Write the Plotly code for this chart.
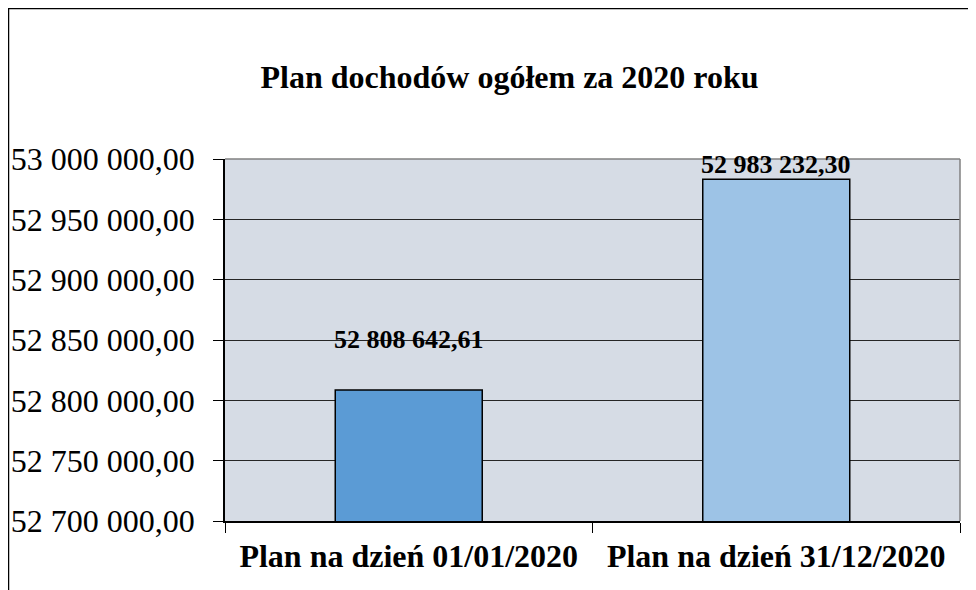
import plotly.graph_objects as go

categories = ["Plan na dzień 01/01/2020", "Plan na dzień 31/12/2020"]
values = [52808642.61, 52983232.30]
bar_colors = ["#5b9bd5", "#9dc3e6"]
y_ticks = [52700000, 52750000, 52800000, 52850000, 52900000, 52950000, 53000000]
label_shift = [50, 15]


def fmt(v):
    s = f"{v:,.2f}"
    return s.replace(",", " ").replace(".", ",")


SERIF = "Liberation Serif"

fig = go.Figure()
fig.add_trace(go.Bar(
    x=categories, y=values, width=0.4,
    marker=dict(color=bar_colors, line=dict(color="black", width=1.5)),
    showlegend=False, hoverinfo="skip",
))

for c, v, s in zip(categories, values, label_shift):
    fig.add_annotation(x=c, y=v, text=f"<b>{fmt(v)}</b>", showarrow=False,
                       yanchor="middle", yshift=s,
                       font=dict(family=SERIF, size=26, color="black"))

# the page body adds an 8px offset; coordinates below are figure coords
OFF = 8
L, R, T, B = 225 - OFF, 24, 159 - OFF, 77
W, H = 976, 590
pw, ph = W - L - R, H - T - B

def px(x):
    return (x - L) / pw

def py(y):
    return (H - B - y) / ph

shapes = [
    dict(type="line", xref="paper", yref="paper", x0=px(0.5), x1=px(0.5), y0=py(0), y1=py(700),
         line=dict(color="black", width=1.5)),
    dict(type="line", xref="paper", yref="paper", x0=px(0), x1=px(1100), y0=py(0.5), y1=py(0.5),
         line=dict(color="black", width=1.5)),
    dict(type="line", xref="paper", yref="paper", x0=0, x1=1, y0=1, y1=1,
         line=dict(color="#808080", width=1.5)),
    dict(type="line", xref="paper", yref="paper", x0=1, x1=1, y0=0, y1=1,
         line=dict(color="#808080", width=1.5)),
]

fig.update_layout(
    width=W, height=H,
    margin=dict(l=L, r=R, t=T, b=B, autoexpand=False),
    paper_bgcolor="white",
    plot_bgcolor="#d6dce5",
    title=dict(text="<b>Plan dochodów ogółem za 2020 roku</b>", x=(509.5 - OFF) / W, xanchor="center",
               y=1 - (77 - OFF) / H, yanchor="middle",
               font=dict(family=SERIF, size=32, color="black")),
    shapes=shapes,
)

fig.update_yaxes(
    range=[y_ticks[0], y_ticks[-1]],
    tickvals=y_ticks, ticktext=[fmt(t) for t in y_ticks],
    showgrid=True, gridcolor="#262626", gridwidth=1,
    showline=True, linecolor="black", linewidth=1.5,
    ticks="outside", ticklen=10, tickcolor="black", tickwidth=1,
    ticklabelstandoff=12,
    tickfont=dict(family=SERIF, size=32, color="black"),
    zeroline=False, automargin=False,
)
fig.update_xaxes(
    type="category",
    showline=True, linecolor="black", linewidth=1.5,
    ticks="outside", ticklen=10, tickcolor="black", tickwidth=1,
    tickson="boundaries",
    tickprefix="<b>", ticksuffix="</b>",
    tickfont=dict(family=SERIF, size=32, color="black"),
    ticklabelstandoff=6, automargin=False,
)

fig.write_html("out.html")
